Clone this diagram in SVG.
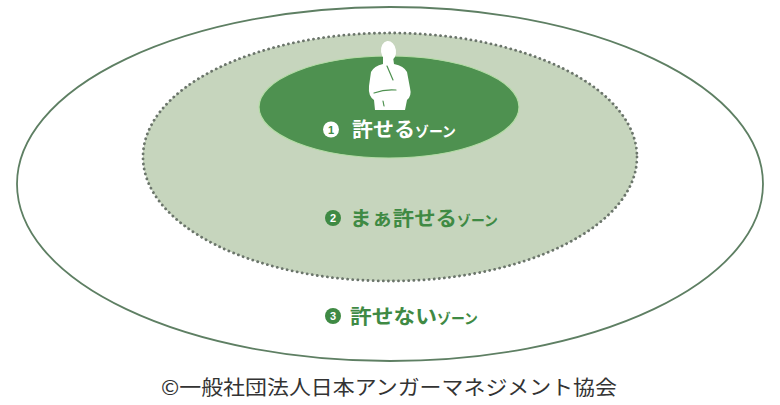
<svg xmlns="http://www.w3.org/2000/svg" width="780" height="405" viewBox="0 0 780 405">
<style>
.jp{font-family:"Noto Sans CJK JP","Noto Sans CJK SC",sans-serif;}
.lbl{font-weight:bold;}
.g{fill:#3f8a44;}
.w{fill:#ffffff;}
.num{font-family:"Liberation Sans",sans-serif;font-size:11px;font-weight:bold;text-anchor:middle;}
</style>
<rect width="780" height="405" fill="#ffffff"/>
<g id="zone3">
<ellipse cx="390" cy="184" rx="373" ry="177" fill="#ffffff" stroke="#5e7f63" stroke-width="1.8"/>
</g>
<g id="zone2">
<ellipse cx="390" cy="157" rx="247" ry="124" fill="#c6d5bd" stroke="#6b756b" stroke-width="2.8" stroke-dasharray="0.1 5" stroke-linecap="round"/>
</g>
<g id="zone1">
<ellipse cx="389" cy="107" rx="130" ry="51" fill="#4e9150" stroke="#b4dca6" stroke-width="1.2"/>
<g id="person">
<ellipse cx="388.5" cy="51" rx="7.5" ry="10" fill="#ffffff" transform="rotate(-8 388.5 51)"/>
<path d="M383,57 L393,57 L394,64 Q404,66 407,72 L410,88 Q412,96 407,100 L405,110 L375,110 L374,100 Q368,96 369,86 L371,72 Q374,66 383,64 Z" fill="#ffffff"/>
<path d="M387,66 L393,80 M374,93 Q385,89 396,90 M383,101 L384,106" stroke="#4e9150" stroke-width="1.2" fill="none" stroke-linecap="round"/>
</g>
</g>
<g id="label1">
<circle cx="331" cy="129.5" r="8" fill="#ffffff"/>
<text x="331" y="133.5" class="num g">1</text>
<text x="352" y="137" class="jp lbl w"><tspan font-size="20" textLength="63" lengthAdjust="spacingAndGlyphs">許せる</tspan><tspan font-size="14.5" textLength="41" lengthAdjust="spacingAndGlyphs">ゾーン</tspan></text>
</g>
<g id="label2">
<circle cx="333" cy="218" r="8" fill="#3f8a44"/>
<text x="333" y="222" class="num w">2</text>
<text x="350" y="226" class="jp lbl g"><tspan font-size="20" textLength="107" lengthAdjust="spacingAndGlyphs">まぁ許せる</tspan><tspan font-size="14.5" textLength="41" lengthAdjust="spacingAndGlyphs">ゾーン</tspan></text>
</g>
<g id="label3">
<circle cx="333" cy="316" r="8" fill="#3f8a44"/>
<text x="333" y="320" class="num w">3</text>
<text x="350" y="324" class="jp lbl g"><tspan font-size="20" textLength="87" lengthAdjust="spacingAndGlyphs">許せない</tspan><tspan font-size="14.5" textLength="41" lengthAdjust="spacingAndGlyphs">ゾーン</tspan></text>
</g>
<g id="copyright">
<text x="161" y="395" class="jp" font-size="20.5" fill="#333333" textLength="456" lengthAdjust="spacingAndGlyphs">©一般社団法人日本アンガーマネジメント協会</text>
</g>
</svg>
